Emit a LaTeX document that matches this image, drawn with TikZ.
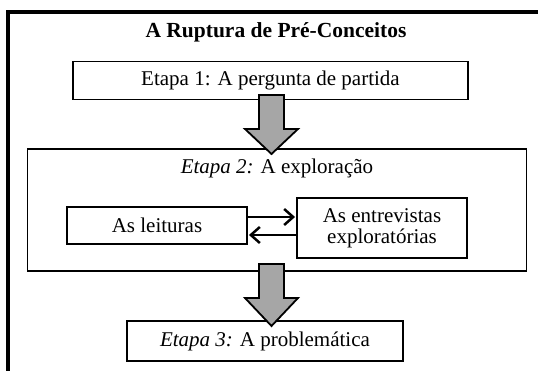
\documentclass[tikz,border=0pt]{standalone}
\usepackage{fontspec}
\setmainfont{Liberation Serif}
\usetikzlibrary{calc,arrows.meta}
\definecolor{arrowgray}{HTML}{A6A6A6}
\tikzset{
  box/.style={draw=black, line width=1.9pt, fill=white, inner sep=0pt, font=\fontsize{21}{24}\selectfont, align=center},
  lbl/.style={inner sep=0pt, font=\fontsize{21}{24}\selectfont},
  bigarrow/.style={draw=black, line width=1.8pt, fill=arrowgray, line join=miter},
  smallarrow/.style={line width=2.5pt, -{Straight Barb[length=9pt,width=16pt,line width=2.5pt]}},
}
\begin{document}
\begin{tikzpicture}[x=1pt,y=-1pt]
\useasboundingbox (0,0) rectangle (538,371);
\clip (0,0) rectangle (538,371);
\fill[white] (0,0) rectangle (538,371);
% outer frame
\draw[line width=3.2pt] (8,12) rectangle (600,420);
\node[inner sep=0pt, font=\fontsize{21.5}{24}\selectfont\bfseries] (title) at (276,32) {A Ruptura de Pré-Conceitos};
\node[box, minimum width=395pt, minimum height=38pt] (box1) at (270.5,80.5) {Etapa 1: A pergunta de partida};
\node[box, minimum width=499pt, minimum height=122pt] (box2) at (277,210) {};
\node[lbl] (t2) at (277,168) {\textit{Etapa 2:} A exploração};
\node[box, minimum width=180pt, minimum height=37pt] (leit) at (157,225.5) {As leituras};
\node[box, minimum width=170pt, minimum height=60pt, font=\fontsize{21}{21}\selectfont] (entr) at (382,228) {As entrevistas\\exploratórias};
\node[box, minimum width=276pt, minimum height=40pt] (box3) at (265,341) {\textit{Etapa 3:} A problemática};
% small arrows
\draw[smallarrow] ([yshift=8.5pt]leit.east) -- ([yshift=8.5pt,xshift=-1pt]leit.east -| entr.west);
\draw[smallarrow] ([yshift=-9.5pt]leit.east -| entr.west) -- ([yshift=-9.5pt,xshift=1pt]leit.east);
% big arrows
\draw[bigarrow] (259,95) -- (284,95) -- (284,129) -- (298,129) -- (271.5,154) -- (245,129) -- (259,129) -- cycle;
\draw[bigarrow] (259,264) -- (284,264) -- (284,298) -- (298,298) -- (271.5,326) -- (245,298) -- (259,298) -- cycle;
\end{tikzpicture}
\end{document}
